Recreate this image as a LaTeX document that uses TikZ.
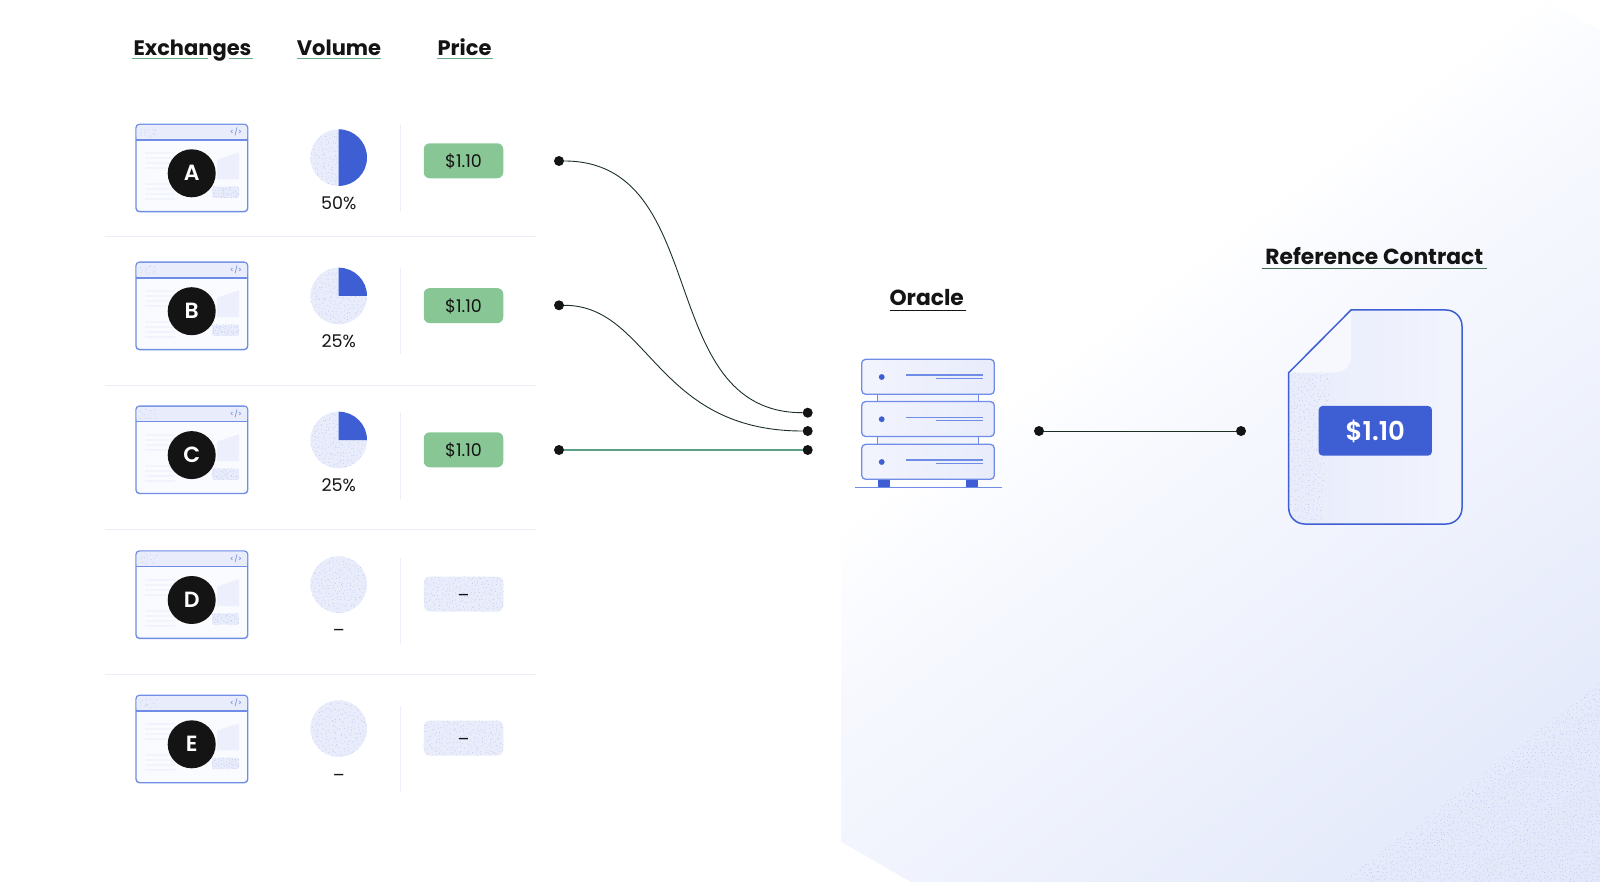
\documentclass[tikz,border=0pt]{standalone}
\usepackage{fontspec}
\setmainfont{Poppins}
\newfontfamily\medfont{Poppins Medium}
\newfontfamily\semifont{Poppins SemiBold}
\definecolor{inkc}{HTML}{141414}
\definecolor{blu}{HTML}{3D5FD3}
\definecolor{edgeb}{HTML}{6F8CE6}
\definecolor{lite}{HTML}{E8ECFB}
\definecolor{lite2}{HTML}{F2F4FD}
\definecolor{grn}{HTML}{88C795}
\definecolor{speck}{HTML}{B0BCEA}
\definecolor{rulec}{HTML}{EBEEFB}
\definecolor{wirec}{HTML}{1A2F24}
\definecolor{wireg}{HTML}{5AA084}
\definecolor{bga}{HTML}{FBFCFF}
\definecolor{bgb}{HTML}{F6F8FE}
\definecolor{bgc}{HTML}{F1F4FD}
\definecolor{bgd}{HTML}{E6EBFB}
\definecolor{bge}{HTML}{E2E8FA}
\pgfdeclarehorizontalshading{bgshade}{100bp}{color(0bp)=(white); color(39.45bp)=(white); color(42.55bp)=(bga); color(47.2bp)=(bgb); color(54.3bp)=(bgc); color(68.1bp)=(bgd); color(76.7bp)=(bge); color(100bp)=(bge)}
\pgfmathsetseed{4242}
% jittered grid of small dots: x0 y0 x1 y1 spacing colour
\newcommand{\speckle}[6]{%
  \pgfmathtruncatemacro\nxx{((#3)-(#1))/(#5)}%
  \pgfmathtruncatemacro\nyy{((#4)-(#2))/(#5)}%
  \foreach \ix in {0,...,\nxx}{\fill[#6] \foreach \iy in {0,...,\nyy}{
    ({(#1)+(\ix+.8*rnd)*(#5)},{(#2)+(\iy+.8*rnd)*(#5)}) circle (.4) };}%
}
\tikzset{
  heading/.style={anchor=base,inner sep=0,font=\fontsize{21}{24}\selectfont\bfseries,text=inkc},
  headingb/.style={heading,font=\fontsize{21.8}{24}\selectfont\bfseries},
  body/.style={anchor=base,inner sep=0,font=\fontsize{17.5}{20}\selectfont,text=inkc},
  letter/.style={anchor=base,inner sep=0,font=\fontsize{22}{24}\selectfont\semifont,text=white},
  tagtext/.style={anchor=base,inner sep=0,font=\fontsize{7}{8}\selectfont\medfont,text=edgeb},
  pinpt/.style={circle,fill=inkc,draw=none,minimum size=10pt,inner sep=0},
  wire/.style={draw=wirec,line width=.9pt},
  wirelight/.style={draw=wireg,line width=1.1pt},
  ulg/.style={draw=wireg!70!grn,line width=1pt},
  ulk/.style={draw=inkc,line width=1.1pt},
  sep/.style={draw=rulec,line width=1pt},
  sepv/.style={draw=rulec,line width=.8pt},
  win/.style={draw=edgeb,line width=1.4pt,fill=white!60!lite2,rounded corners=3.5pt},
  unit/.style={draw=edgeb,line width=1.3pt,left color=lite2,right color=lite,rounded corners=4pt},
  tagbox/.style={rounded corners=6pt,minimum width=79.5pt,minimum height=35pt,inner sep=0}
}
\newcommand{\browser}[3]{
  \begin{scope}[shift={(136,#3)}]
    \path[win] (0,0) rectangle (111.7,87.4);
    \fill[lite,rounded corners=3pt] (.7,.7) rectangle (111,15.7);
    \draw[edgeb,line width=1.3pt] (0,15.7) -- (111.7,15.7);
    \speckle{4}{3}{18}{12}{3.5}{speck}
    \node[tagtext] (tag#1) at (100,10.5) {</>};
    \foreach \ly in {27.7,32.7,37.7,42.7,58.7,63.7,68.7,73.7}{\fill[lite2] (9,\ly) rectangle (39,\ly+2.4);}
    \fill[lite2!50!lite] (81,35.7) .. controls (88,33) and (96,30) .. (103,28.4) -- (103,55) -- (81,55) -- cycle;
    \fill[lite,rounded corners=2pt] (76,62.4) rectangle (103,73.7);
    \begin{scope}
      \clip[rounded corners=2pt] (76,62.4) rectangle (103,73.7);
      \speckle{76}{62.4}{103}{73.7}{2.6}{speck}
    \end{scope}
    \node[circle,fill=inkc,minimum size=48pt,inner sep=0] (disc#1) at (55.7,49) {};
    \node[letter] (let#1) at (55.7,56.6) {#2};
  \end{scope}
}
\newcommand{\volpie}[5]{
  \fill[lite] (338.7,#2) circle (28.3);
  \begin{scope}
    \clip (338.7,#2) circle (28.3);
    \speckle{310}{#2-29}{367.5}{#2+29}{3.6}{speck}
  \end{scope}
  \ifnum#3>-90
    \fill[blu] (338.7,#2) -- (338.7,#2-28.3) arc[start angle=-90,end angle=#3,radius=28.3] -- cycle;
  \fi
  \node[body] (vol#1) at (338.7,#5) {#4};
}
\begin{document}
\begin{tikzpicture}[x=1pt,y=-1pt]
\useasboundingbox (0,0) rectangle (1600,882);
% background
\begin{scope}
  \clip (841,300) -- (841,841.7) -- (911,882) -- (1600,882) -- (1600,30) -- (1545,0) -- (1200,0) -- cycle;
  \shade[shading=bgshade,shading angle=-52.8] (720,0) rectangle (1720,1000);
  \begin{scope}
    \clip (1342,882) -- (1600,683) -- (1600,882) -- cycle;
    \speckle{1342}{683}{1600}{882}{3.6}{speck}
  \end{scope}
\end{scope}
% headers
\node[heading] (hEx) at (192.5,55.7) {Exchanges};
\node[heading] (hVol) at (339,55.7) {Volume};
\node[heading] (hPr) at (464.5,55.7) {Price};
\draw[ulg] (132,58.5) -- (208,58.5) (229,58.5) -- (252.5,58.5);
\draw[ulg] (297,58.5) -- (381,58.5);
\draw[ulg] (437,58.5) -- (492.5,58.5);
% row rules
\foreach \ry in {237,385,529,674.5}{\draw[sep] (105,\ry) -- (536,\ry);}
\foreach \vy in {125,268,413,558,706}{\draw[sepv] (400.3,\vy) -- (400.3,\vy+86);}
% rows
\browser{a}{A}{124.3}
\browser{b}{B}{262.2}
\browser{c}{C}{406.1}
\browser{d}{D}{551}
\browser{e}{E}{695.3}
\volpie{a}{157.6}{90}{50\%}{209.3}
\volpie{b}{296}{0}{25\%}{347.2}
\volpie{c}{440}{0}{25\%}{491}
\volpie{d}{584.6}{-90}{–}{636.5}
\volpie{e}{728.6}{-90}{–}{781}
% prices
\node[tagbox,fill=grn] (pa) at (463.5,160.8) {};
\node[tagbox,fill=grn] (pb) at (463.5,305.6) {};
\node[tagbox,fill=grn] (pc) at (463.5,449.8) {};
\node[tagbox,fill=lite] (pd) at (463.5,594) {};
\node[tagbox,fill=lite] (pe) at (463.5,738) {};
\begin{scope}
  \clip[rounded corners=6pt] (423.7,576.5) rectangle (503.3,611.5);
  \speckle{423}{576}{504}{612}{3.6}{speck}
\end{scope}
\begin{scope}
  \clip[rounded corners=6pt] (423.7,720.5) rectangle (503.3,755.5);
  \speckle{423}{720}{504}{756}{3.6}{speck}
\end{scope}
\node[body] (ta) at (463.5,167.5) {\$1.10};
\node[body] (tb) at (463.5,312.3) {\$1.10};
\node[body] (tc) at (463.5,456.5) {\$1.10};
\node[body] (td) at (463.5,601) {–};
\node[body] (te) at (463.5,745) {–};
% connectors
\node[pinpt] (sa) at (559,161) {};
\node[pinpt] (sb) at (559,305.3) {};
\node[pinpt] (sc) at (559,450) {};
\node[pinpt] (ea) at (807.7,412.7) {};
\node[pinpt] (eb) at (807.7,431) {};
\node[pinpt] (ec) at (807.7,450) {};
\node[pinpt] (or) at (1039,431) {};
\node[pinpt] (rc) at (1241,431) {};
\draw[wire] (sa) .. controls (713,161) and (653,412.7) .. (ea);
\draw[wire] (sb) .. controls (650,305.3) and (655,431) .. (eb);
\draw[wirelight] (sc) -- (ec);
\draw[wire] (or) -- (rc);
% oracle
\node[headingb] (hOr) at (926.7,306) {Oracle};
\draw[ulk] (889.7,310.7) -- (966,310.7);
\draw[edgeb,line width=1.3pt,fill=lite2] (877.7,394) rectangle (978.3,402);
\draw[edgeb,line width=1.3pt,fill=lite2] (877.7,436) rectangle (978.3,444.5);
\fill[blu] (877.7,479) rectangle (889.7,487);
\fill[blu] (966,479) rectangle (978.3,487);
\draw[edgeb,line width=1.2pt] (855,487.3) -- (1002.3,487.3);
\foreach \uu/\utop in {1/359.3,2/401.5,3/444.3}{
  \path[unit] (861.7,\utop) rectangle (994.3,\utop+35);
  \fill[blu] (881.7,\utop+17.7) circle (2.9);
  \draw[edgeb,line width=1.1pt] (906,\utop+15.7) -- (982.7,\utop+15.7);
  \draw[edgeb,line width=1.1pt] (936.3,\utop+19.4) -- (982.7,\utop+19.4);
}
% contract
\node[headingb] (hRc) at (1374.3,264.3) {Reference Contract};
\draw[ulg,draw=wirec!60!grn] (1261.7,269) -- (1486.7,269);
\path[left color=lite,right color=lite2] (1351,310) -- (1446,310) .. controls (1454.8,310) and (1462,317.2) .. (1462,326) -- (1462,508) .. controls (1462,516.8) and (1454.8,524) .. (1446,524) -- (1304.7,524) .. controls (1295.9,524) and (1288.7,516.8) .. (1288.7,508) -- (1288.7,372.7) -- cycle;
\begin{scope}
  \clip (1288.7,372.7) -- (1330,372.7) -- (1322,520) -- (1288.7,520) -- cycle;
  \speckle{1289}{373}{1330}{522}{3.8}{speck}
\end{scope}
\fill[lite2!60!white] (1351,310) -- (1351,356) .. controls (1351,365) and (1344,372.7) .. (1335,372.7) -- (1288.7,372.7) -- cycle;
\draw[blu,line width=1.5pt] (1351,310) -- (1446,310) .. controls (1454.8,310) and (1462,317.2) .. (1462,326) -- (1462,508) .. controls (1462,516.8) and (1454.8,524) .. (1446,524) -- (1304.7,524) .. controls (1295.9,524) and (1288.7,516.8) .. (1288.7,508) -- (1288.7,372.7) -- cycle;
\node[fill=blu,rounded corners=4pt,minimum width=113.3pt,minimum height=49.7pt,inner sep=0] (pricebox) at (1375.3,430.8) {};
\node[anchor=base,inner sep=0,font=\fontsize{26}{28}\selectfont\semifont,text=white] (pricetext) at (1375.3,440.7) {\$1.10};
\end{tikzpicture}
\end{document}
